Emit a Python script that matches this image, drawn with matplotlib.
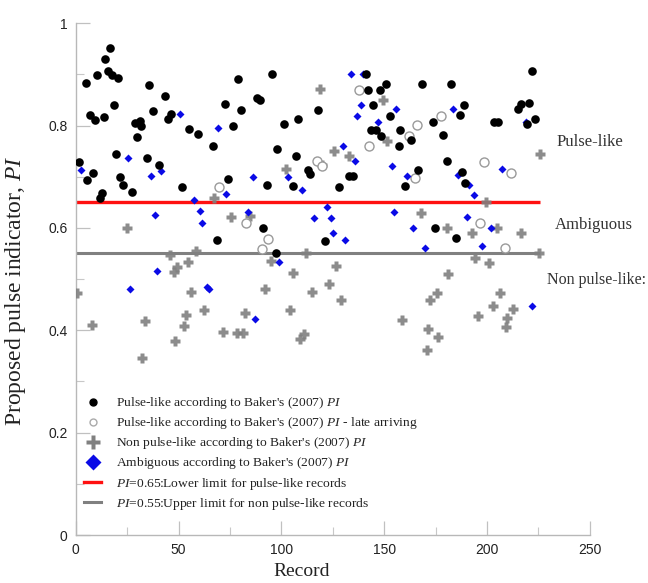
import matplotlib
matplotlib.use('Agg')
import matplotlib.pyplot as plt
from matplotlib.lines import Line2D
from matplotlib.ticker import MultipleLocator, FuncFormatter

plt.rcParams['font.family'] = 'Liberation Serif'
plt.rcParams['mathtext.fontset'] = 'custom'
plt.rcParams['mathtext.rm'] = 'Liberation Serif'
plt.rcParams['mathtext.it'] = 'Liberation Serif:italic'

# pulse-like (Baker 2007): record, PI
pulse_rec = [1.6, 4.9, 5.5, 6.8, 8.6, 9.4, 10.5, 11.7, 12.6, 13.7, 14.4, 15.5, 16.7, 17.8,
             18.6, 19.6, 20.7, 21.7, 22.8, 27.5, 28.8, 29.8, 31.2, 31.7, 34.6, 35.6, 37.4,
             40.3, 43.4, 44.7, 46.3, 51.5, 55.3, 59.6, 66.5, 68.5, 72.5, 74.1, 76.4, 79.1,
             80.2, 88.3, 89.7, 91.3, 93.2, 95.3, 97.4, 98.0, 101.3, 105.8, 107.0, 108.3,
             113.0, 114.0, 118.0, 121.0, 128.0, 132.7, 135.0, 141.0, 142.0, 143.7, 144.7,
             146.0, 147.9, 148.7, 151.0, 152.8, 157.0, 157.8, 160.0, 163.0, 166.7, 168.6,
             174.0, 174.8, 178.8, 180.6, 182.5, 184.8, 186.9, 187.7, 188.8, 189.3, 203.4,
             205.2, 214.9, 216.8, 219.7, 220.5, 221.7, 223.4]
pulse_pi = [0.728, 0.883, 0.694, 0.820, 0.708, 0.811, 0.898, 0.659, 0.669, 0.816, 0.929, 0.906,
            0.952, 0.898, 0.840, 0.744, 0.893, 0.699, 0.684, 0.670, 0.804, 0.778, 0.808, 0.799,
            0.737, 0.880, 0.828, 0.722, 0.857, 0.812, 0.823, 0.680, 0.794, 0.783, 0.760, 0.577,
            0.842, 0.696, 0.799, 0.890, 0.830, 0.853, 0.850, 0.600, 0.683, 0.901, 0.551, 0.755,
            0.803, 0.682, 0.741, 0.813, 0.713, 0.705, 0.830, 0.574, 0.680, 0.701, 0.701, 0.900,
            0.869, 0.791, 0.840, 0.791, 0.869, 0.779, 0.881, 0.819, 0.760, 0.791, 0.682, 0.771,
            0.714, 0.881, 0.806, 0.600, 0.781, 0.730, 0.881, 0.581, 0.820, 0.710, 0.840, 0.688,
            0.806, 0.806, 0.832, 0.842, 0.803, 0.844, 0.906, 0.812]

# pulse-like, late arriving
late_rec = [69.9, 82.7, 90.4, 93.7, 117.5, 119.8, 138.0, 142.7, 162.0, 165.0, 165.8, 177.7,
            196.6, 198.7, 208.6, 211.7]
late_pi = [0.680, 0.610, 0.559, 0.578, 0.731, 0.721, 0.869, 0.760, 0.779, 0.697, 0.801, 0.819,
           0.610, 0.728, 0.560, 0.708]

# non pulse-like
non_rec = [0.5, 7.8, 24.8, 32.4, 33.6, 45.6, 48.0, 48.4, 49.2, 52.4, 53.5, 54.5, 56.0, 58.3,
           62.5, 67.3, 71.4, 75.4, 78.3, 81.1, 82.2, 84.8, 92.0, 95.0, 102.3, 104.0, 105.5,
           109.0, 111.0, 112.0, 115.0, 119.0, 120.0, 123.0, 125.7, 126.8, 129.0, 132.7, 149.5,
           151.6, 158.9, 168.0, 170.7, 171.5, 172.3, 175.6, 176.4, 180.4, 181.2, 192.9, 194.2,
           195.8, 199.4, 201.0, 203.0, 204.7, 206.6, 209.3, 210.0, 212.5, 216.5, 225.4, 225.7]
non_pi = [0.472, 0.410, 0.600, 0.345, 0.418, 0.547, 0.514, 0.379, 0.524, 0.409, 0.430, 0.533,
          0.474, 0.555, 0.439, 0.659, 0.396, 0.622, 0.394, 0.394, 0.433, 0.624, 0.480, 0.535,
          0.716, 0.439, 0.511, 0.382, 0.393, 0.550, 0.475, 0.871, 0.723, 0.490, 0.751, 0.526,
          0.460, 0.740, 0.850, 0.770, 0.420, 0.630, 0.361, 0.402, 0.460, 0.472, 0.387, 0.600,
          0.509, 0.591, 0.542, 0.428, 0.650, 0.531, 0.448, 0.600, 0.472, 0.407, 0.424, 0.441,
          0.590, 0.550, 0.744]

# ambiguous
amb_rec = [2.6, 25.6, 36.4, 38.5, 39.7, 41.6, 26.3, 50.5, 57.3, 60.3, 61.3, 63.7, 64.9, 69.3,
           73.3, 84.0, 86.4, 87.2, 99.0, 103.0, 110.0, 116.0, 122.0, 124.0, 125.0, 131.0, 133.8,
           139.5, 138.7, 137.0, 147.0, 129.8, 136.0, 153.7, 156.0, 155.0, 161.0, 164.0, 169.9,
           183.6, 185.8, 190.4, 191.3, 193.7, 197.7, 201.8, 207.4, 218.9, 222.0]
amb_pi = [0.713, 0.737, 0.702, 0.625, 0.516, 0.711, 0.480, 0.823, 0.655, 0.633, 0.610, 0.485,
          0.480, 0.795, 0.667, 0.632, 0.700, 0.422, 0.534, 0.700, 0.675, 0.620, 0.640, 0.620,
          0.591, 0.577, 0.900, 0.900, 0.840, 0.819, 0.806, 0.760, 0.730, 0.721, 0.832, 0.632,
          0.701, 0.600, 0.561, 0.832, 0.703, 0.621, 0.684, 0.664, 0.564, 0.600, 0.715, 0.807,
          0.447]

pi_upper = 0.65
pi_lower = 0.55
line_end = 226

grey = '#808080'
blue = '#0a0ae6'

fig = plt.figure(figsize=(6.48, 5.83), dpi=100)
ax = fig.add_axes([0.117, 0.0823, 0.793, 0.878])

ax.hlines(pi_upper, 0, line_end, color='#ff1010', lw=2.4, zorder=2)
ax.hlines(pi_lower, 0, line_end, color=grey, lw=2.2, zorder=2)

ax.plot(non_rec, non_pi, 'P', color=grey, markersize=6.5, mec='none', alpha=0.9, zorder=3)
ax.plot(late_rec, late_pi, 'o', mfc='white', mec='#9a9a9a', mew=1.0, markersize=6.5, zorder=3)
ax.plot(amb_rec, amb_pi, 'D', color=blue, markersize=4.2, mec='none', zorder=4)
ax.plot(pulse_rec, pulse_pi, 'o', color='black', markersize=6.2, mec='none', zorder=5)

ax.set_xlim(0, 250)
ax.set_ylim(0, 1)
ax.xaxis.set_major_locator(MultipleLocator(50))
ax.xaxis.set_minor_locator(MultipleLocator(25))
ax.yaxis.set_major_locator(MultipleLocator(0.2))
ax.yaxis.set_minor_locator(MultipleLocator(0.1))
ax.yaxis.set_major_formatter(FuncFormatter(lambda v, p: f'{v:g}'))

for s in ['top', 'right']:
    ax.spines[s].set_visible(False)
for s in ['left', 'bottom']:
    ax.spines[s].set_color('#b8b8b8')
    ax.spines[s].set_linewidth(1.0)
ax.tick_params(which='major', direction='in', length=10, color='#c0c0c0', width=0.9,
               labelsize=10, labelcolor='#222222', pad=6)
ax.tick_params(which='minor', direction='in', length=6, color='#c8c8c8', width=0.8)
for lab in ax.get_xticklabels() + ax.get_yticklabels():
    lab.set_family('Liberation Sans')

ax.set_xlabel('Record', fontsize=14, color='#222222')
ax.xaxis.set_label_coords(0.44, -0.055)
ax.set_ylabel('Proposed pulse indicator, $\\mathit{PI}$', fontsize=17, color='#222222')
ax.yaxis.set_label_coords(-0.093, 0.478)

ax.text(234, 0.768, 'Pulse-like', fontsize=12, va='center', color='#333333', clip_on=False)
ax.text(233, 0.605, 'Ambiguous', fontsize=12, va='center', color='#333333', clip_on=False)
ax.text(229.3, 0.498, 'Non pulse-like:', fontsize=11.5, va='center', color='#333333', clip_on=False)

handles = [
    Line2D([], [], ls='none', marker='o', color='black', markersize=5),
    Line2D([], [], ls='none', marker='o', mfc='white', mec='#aaaaaa', markersize=5),
    Line2D([], [], ls='none', marker='P', color=grey, markersize=10, mec='none'),
    Line2D([], [], ls='none', marker='D', color=blue, markersize=8, mec='none'),
    Line2D([], [], color='#ff1010', lw=2.4),
    Line2D([], [], color=grey, lw=2.2),
]
labels = [
    "Pulse-like according to Baker's (2007) $\\mathit{PI}$",
    "Pulse-like according to Baker's (2007) $\\mathit{PI}$ - late arriving",
    "Non pulse-like according to Baker's (2007) $\\mathit{PI}$",
    "Ambiguous according to Baker's (2007) $\\mathit{PI}$",
    "$\\mathit{PI}$=0.65:Lower limit for pulse-like records",
    "$\\mathit{PI}$=0.55:Upper limit for non pulse-like records",
]
leg = ax.legend(handles, labels, loc='lower left', bbox_to_anchor=(0.0, 0.03),
                frameon=False, fontsize=9.7, handlelength=1.3, handletextpad=1.1,
                labelspacing=0.3, borderaxespad=0.2)
for t in leg.get_texts():
    t.set_color('#222222')

fig.savefig('out.png', dpi=100)
